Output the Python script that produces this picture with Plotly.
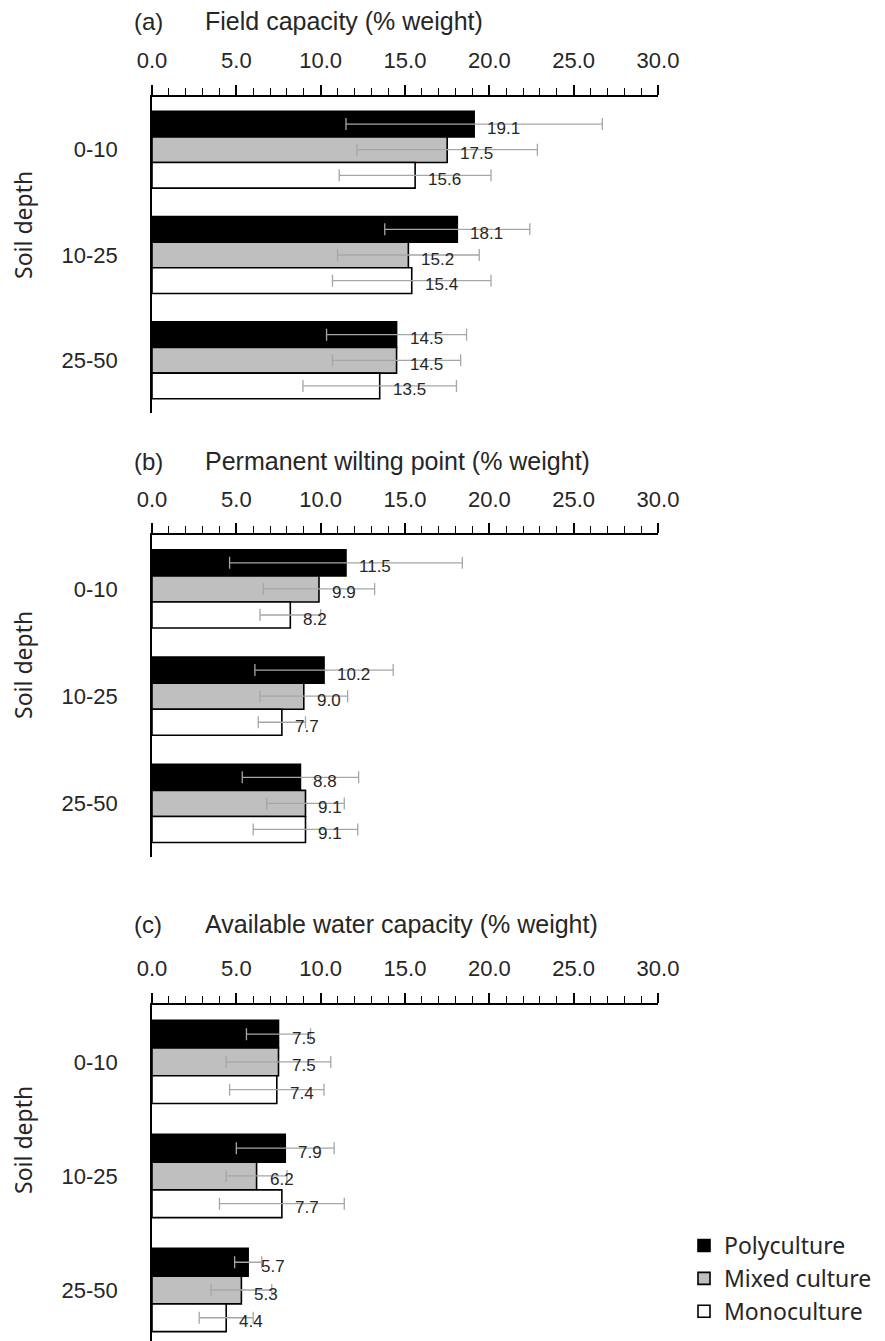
import plotly.graph_objects as go

# ---------------- data ----------------
depths = ["0-10", "10-25", "25-50"]
series_names = ["Polyculture", "Mixed culture", "Monoculture"]

fc_poly = [19.1, 18.1, 14.5]
fc_mixed = [17.5, 15.2, 14.5]
fc_mono = [15.6, 15.4, 13.5]
fc_poly_err = [7.6, 4.3, 4.15]
fc_mixed_err = [5.35, 4.2, 3.8]
fc_mono_err = [4.5, 4.7, 4.55]

pwp_poly = [11.5, 10.2, 8.8]
pwp_mixed = [9.9, 9.0, 9.1]
pwp_mono = [8.2, 7.7, 9.1]
pwp_poly_err = [6.9, 4.1, 3.45]
pwp_mixed_err = [3.3, 2.6, 2.3]
pwp_mono_err = [1.8, 1.4, 3.1]

awc_poly = [7.5, 7.9, 5.7]
awc_mixed = [7.5, 6.2, 5.3]
awc_mono = [7.4, 7.7, 4.4]
awc_poly_err = [1.9, 2.9, 0.8]
awc_mixed_err = [3.1, 1.8, 1.8]
awc_mono_err = [2.8, 3.7, 1.6]

x_tick_vals = [0, 5, 10, 15, 20, 25, 30]
x_tick_labels = ["0.0", "5.0", "10.0", "15.0", "20.0", "25.0", "30.0"]
panel_letters = ["(a)", "(b)", "(c)"]
panel_titles = ["Field capacity (% weight)",
                "Permanent wilting point (% weight)",
                "Available water capacity (% weight)"]
y_title = "Soil depth"

# ---------------- styles ----------------
W, H = 885, 1341
fills = ["#000000", "#BFBFBF", "#FFFFFF"]
err_color = "#A6A6A6"
FONT = "Liberation Sans, Arial, sans-serif"
LABEL_FONT = "Noto Sans, Open Sans, sans-serif"
bar_w = 0.2433

def py(px):
    return 1 - px / H

x_dom = [152 / W, 658 / W]
# (top px, bottom px, y range bottom)
panel_geom = [
    (97.0, 413.0, 2.5),
    (535.3, 857.0, 2.5),
    (1004.9, 1341.0, 2.447),
]
title_y = [21, 461, 924]
soil_y = [225, 665, 1140]

panels = [
    ([fc_poly, fc_mixed, fc_mono], [fc_poly_err, fc_mixed_err, fc_mono_err]),
    ([pwp_poly, pwp_mixed, pwp_mono], [pwp_poly_err, pwp_mixed_err, pwp_mono_err]),
    ([awc_poly, awc_mixed, awc_mono], [awc_poly_err, awc_mixed_err, awc_mono_err]),
]

fig = go.Figure()
annotations = []
layout_axes = {}

for p, (vals_list, errs_list) in enumerate(panels):
    xa = "x" if p == 0 else f"x{p+1}"
    ya = "y" if p == 0 else f"y{p+1}"
    for k, (vals, errs) in enumerate(zip(vals_list, errs_list)):
        ypos = [i + (k - 1) * bar_w for i in range(len(depths))]
        fig.add_trace(go.Bar(
            x=vals, y=ypos, orientation="h", width=bar_w,
            name=series_names[k], legendgroup=series_names[k],
            showlegend=(p == 0),
            marker=dict(color=fills[k], line=dict(color="black", width=1.6)),
            error_x=dict(type="data", array=errs, color=err_color,
                         thickness=1.3, width=6),
            xaxis=xa, yaxis=ya,
        ))
        for v, yy in zip(vals, ypos):
            annotations.append(dict(
                x=v, y=yy, xref=xa, yref=ya, text=f"{v:.1f}",
                showarrow=False, xanchor="left", yanchor="middle",
                xshift=11, yshift=-4,
                font=dict(family=FONT, size=17, color="#262626"),
            ))
    top, bot, yr = panel_geom[p]
    xkey = "xaxis" if p == 0 else f"xaxis{p+1}"
    ykey = "yaxis" if p == 0 else f"yaxis{p+1}"
    layout_axes[xkey] = dict(
        domain=x_dom, anchor=ya, side="top", range=[0, 30],
        tickvals=x_tick_vals, ticktext=x_tick_labels,
        ticks="outside", ticklen=10, tickwidth=1.5, tickcolor="black",
        minor=dict(dtick=1, ticks="outside", ticklen=7, tickwidth=1.3,
                   tickcolor="black", showgrid=False),
        showline=True, linecolor="black", linewidth=1.8,
        showgrid=False, zeroline=False,
        ticklabelstandoff=8,
        tickfont=dict(family=FONT, size=22, color="#262626"),
    )
    layout_axes[ykey] = dict(
        domain=[py(bot), py(top)], anchor=xa, range=[yr, -0.5],
        tickvals=[0, 1, 2], ticktext=depths,
        ticks="", showline=True, linecolor="black", linewidth=1.8,
        showgrid=False, zeroline=False,
        ticklabelstandoff=28,
        tickfont=dict(family=FONT, size=22, color="#262626"),
    )
    annotations.append(dict(
        x=148 / W, y=py(title_y[p]), xref="paper", yref="paper",
        text=panel_letters[p], showarrow=False, xanchor="center",
        yanchor="middle", font=dict(family=FONT, size=24, color="#262626"),
    ))
    annotations.append(dict(
        x=203 / W, y=py(title_y[p]), xref="paper", yref="paper",
        text=panel_titles[p], showarrow=False, xanchor="left",
        yanchor="middle", font=dict(family=FONT, size=25, color="#262626"),
    ))
    annotations.append(dict(
        x=23 / W, y=py(soil_y[p]), xref="paper", yref="paper",
        text=y_title, showarrow=False, textangle=-90,
        xanchor="center", yanchor="middle",
        font=dict(family=LABEL_FONT, size=23, color="#262626"),
    ))

fig.update_layout(
    width=W, height=H,
    margin=dict(l=0, r=0, t=0, b=0, pad=0, autoexpand=False),
    paper_bgcolor="white", plot_bgcolor="white",
    barmode="overlay",
    annotations=annotations,
    legend=dict(x=684 / W, y=py(1224), xanchor="left", yanchor="top",
                font=dict(family=LABEL_FONT, size=23, color="#262626"),
                itemwidth=30, traceorder="normal", bgcolor="rgba(0,0,0,0)"),
    **layout_axes,
)

fig.write_html("out.html")
